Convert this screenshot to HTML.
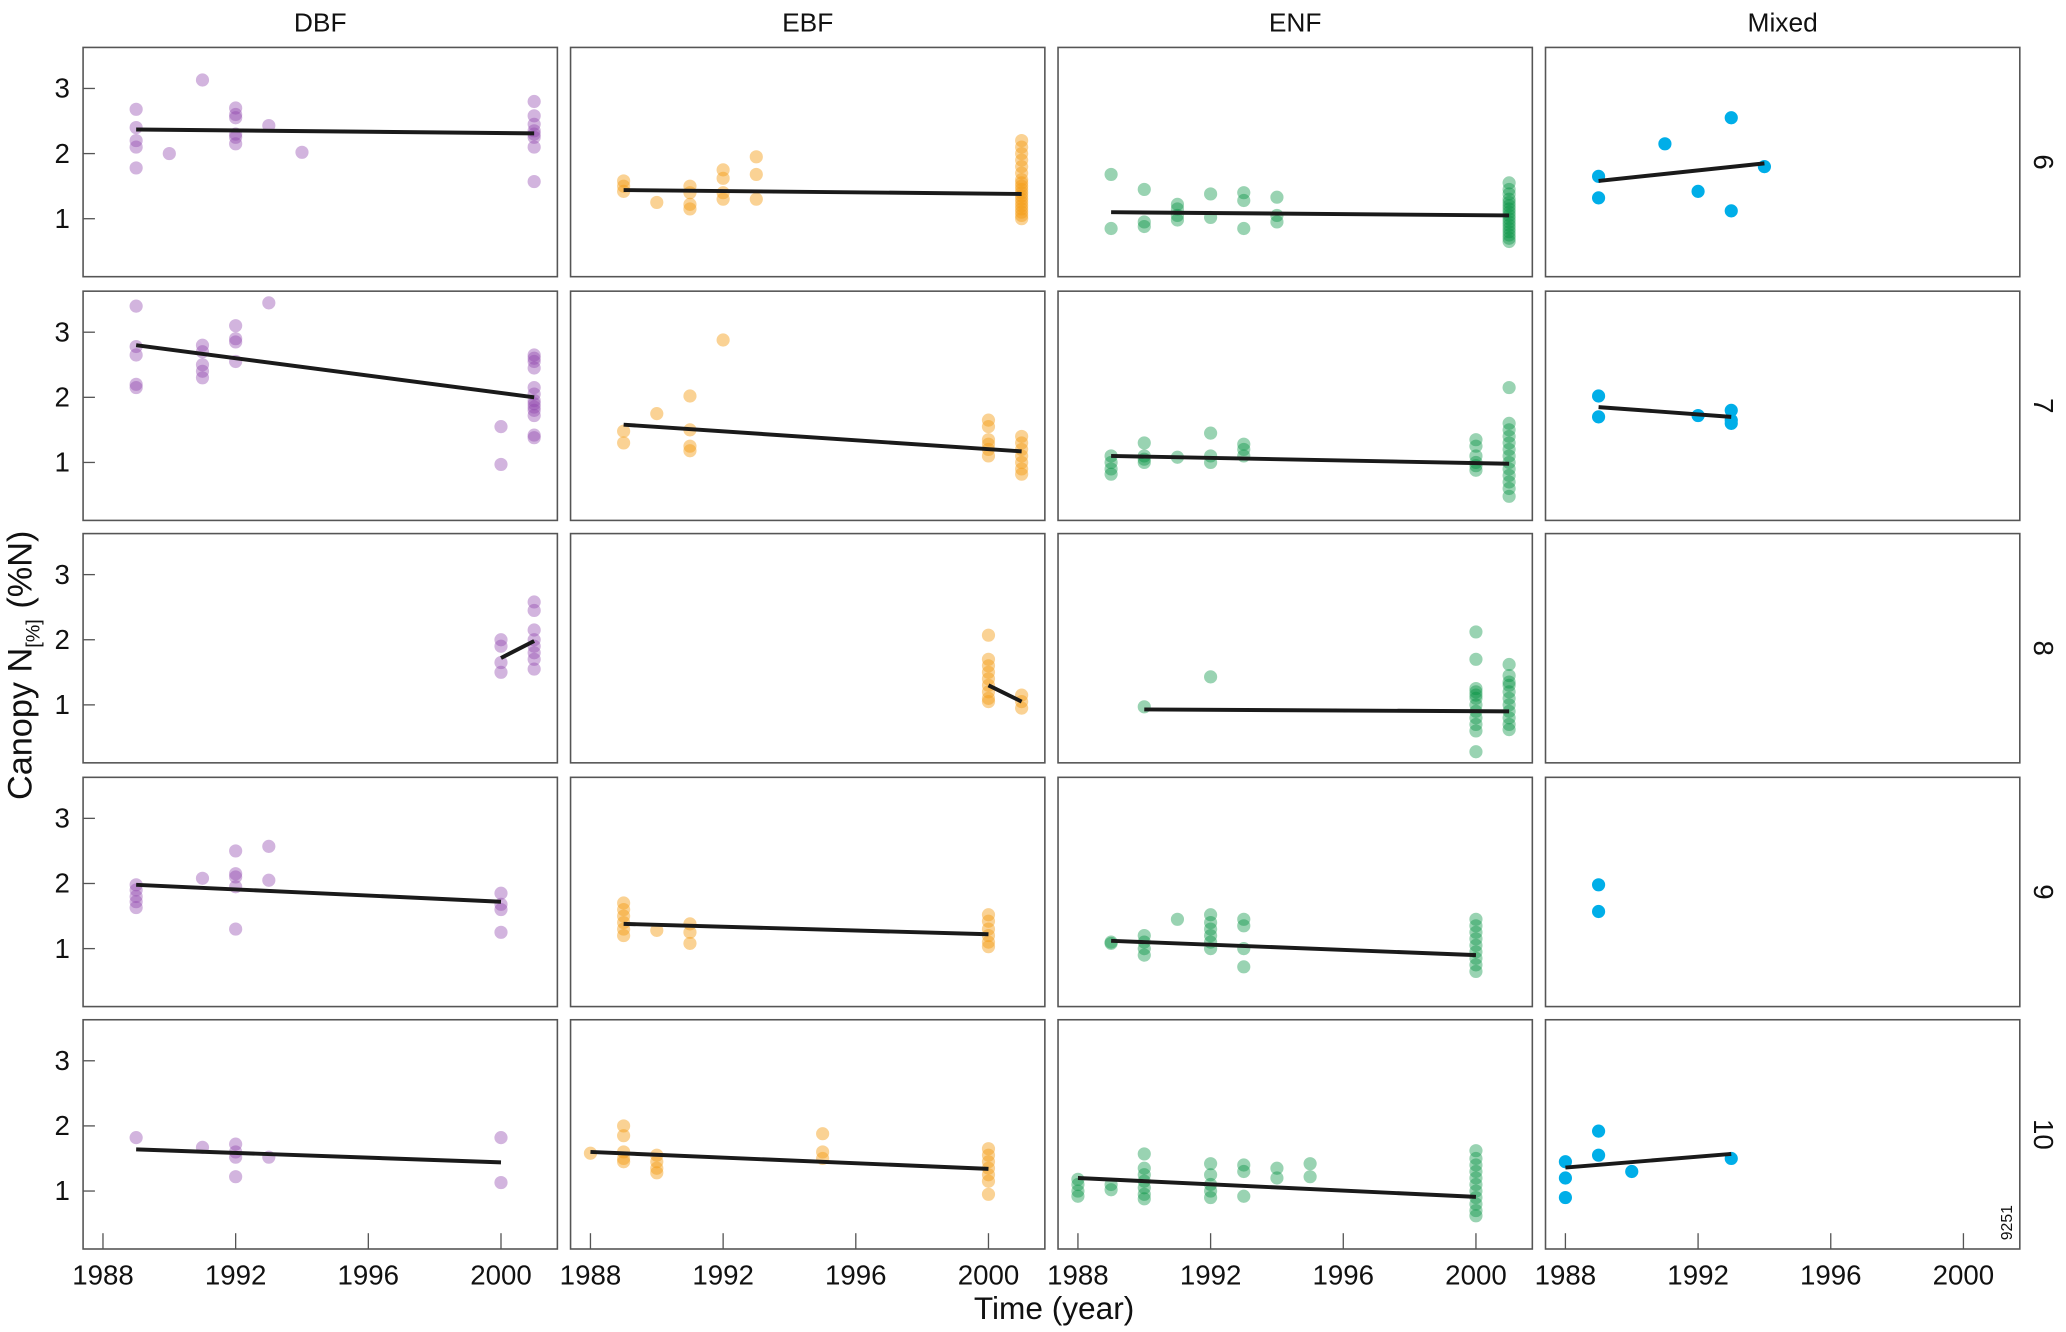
<!DOCTYPE html>
<html><head><meta charset="utf-8"><style>
html,body{margin:0;padding:0;background:#fff;}
svg{display:block;font-family:"Liberation Sans","DejaVu Sans",sans-serif;}
</style></head><body>
<svg id="chart" width="2066" height="1332" viewBox="0 0 1568 1011" xmlns="http://www.w3.org/2000/svg"></svg>
<script>
const columns = ["DBF","EBF","ENF","Mixed"];
const rows = ["6","7","8","9","10"];
const colors = {DBF:"#8e44ad",EBF:"#f39c12",ENF:"#00923f",Mixed:"#00aee8"};
const opac = {DBF:0.4,EBF:0.45,ENF:0.4,Mixed:1};
const xTicks = [1988,1992,1996,2000];
const yTicks = [1,2,3];
// points: [year, value]
const DBF6=[[1989,2.68],[1989,2.4],[1989,2.2],[1989,2.1],[1989,1.78],[1990,2.0],[1991,3.13],[1992,2.7],[1992,2.6],[1992,2.55],[1992,2.3],[1992,2.25],[1992,2.15],[1993,2.43],[1994,2.02],[2001,2.8],[2001,2.58],[2001,2.45],[2001,2.35],[2001,2.3],[2001,2.25],[2001,2.1],[2001,1.57]];
const EBF6=[[1989,1.58],[1989,1.5],[1989,1.42],[1990,1.25],[1991,1.5],[1991,1.4],[1991,1.22],[1991,1.15],[1992,1.75],[1992,1.62],[1992,1.4],[1992,1.3],[1993,1.95],[1993,1.68],[1993,1.3],[2001,2.2],[2001,2.1],[2001,2.0],[2001,1.9],[2001,1.8],[2001,1.7],[2001,1.6],[2001,1.55],[2001,1.5],[2001,1.45],[2001,1.4],[2001,1.35],[2001,1.3],[2001,1.25],[2001,1.2],[2001,1.15],[2001,1.1],[2001,1.05],[2001,1.0]];
const ENF6=[[1989,1.68],[1989,0.85],[1990,1.45],[1990,0.95],[1990,0.88],[1991,1.22],[1991,1.15],[1991,1.05],[1991,0.98],[1992,1.38],[1992,1.02],[1993,1.4],[1993,1.28],[1993,0.85],[1994,1.33],[1994,1.05],[1994,0.95],[2001,1.55],[2001,1.45],[2001,1.38],[2001,1.3],[2001,1.25],[2001,1.2],[2001,1.15],[2001,1.1],[2001,1.05],[2001,1.0],[2001,0.95],[2001,0.9],[2001,0.85],[2001,0.8],[2001,0.75],[2001,0.7],[2001,0.65]];
const Mixed6=[[1989,1.65],[1989,1.32],[1991,2.15],[1992,1.42],[1993,2.55],[1993,1.12],[1994,1.8]];
const DBF7=[[1989,3.4],[1989,2.78],[1989,2.65],[1989,2.2],[1989,2.15],[1991,2.8],[1991,2.7],[1991,2.5],[1991,2.4],[1991,2.3],[1992,3.1],[1992,2.9],[1992,2.85],[1992,2.55],[1993,3.45],[2000,1.55],[2000,0.97],[2001,2.65],[2001,2.6],[2001,2.55],[2001,2.45],[2001,2.15],[2001,2.05],[2001,1.95],[2001,1.9],[2001,1.85],[2001,1.8],[2001,1.72],[2001,1.42],[2001,1.38]];
const EBF7=[[1989,1.48],[1989,1.3],[1990,1.75],[1991,2.02],[1991,1.5],[1991,1.25],[1991,1.18],[1992,2.88],[2000,1.65],[2000,1.55],[2000,1.35],[2000,1.28],[2000,1.2],[2000,1.1],[2001,1.4],[2001,1.3],[2001,1.2],[2001,1.1],[2001,1.0],[2001,0.9],[2001,0.82]];
const ENF7=[[1989,1.1],[1989,1.0],[1989,0.9],[1989,0.82],[1990,1.3],[1990,1.1],[1990,1.05],[1990,1.0],[1991,1.08],[1992,1.45],[1992,1.1],[1992,1.0],[1993,1.28],[1993,1.2],[1993,1.1],[2000,1.35],[2000,1.25],[2000,1.1],[2000,1.0],[2000,0.95],[2000,0.88],[2001,2.15],[2001,1.6],[2001,1.5],[2001,1.4],[2001,1.3],[2001,1.2],[2001,1.1],[2001,1.0],[2001,0.9],[2001,0.8],[2001,0.7],[2001,0.6],[2001,0.48]];
const Mixed7=[[1989,2.02],[1989,1.7],[1992,1.72],[1993,1.8],[1993,1.65],[1993,1.6]];
const DBF8=[[2000,2.0],[2000,1.9],[2000,1.65],[2000,1.5],[2001,2.58],[2001,2.45],[2001,2.15],[2001,2.0],[2001,1.9],[2001,1.8],[2001,1.7],[2001,1.55]];
const EBF8=[[2000,2.07],[2000,1.7],[2000,1.6],[2000,1.5],[2000,1.4],[2000,1.3],[2000,1.2],[2000,1.1],[2000,1.05],[2001,1.15],[2001,1.05],[2001,0.95]];
const ENF8=[[1990,0.97],[1992,1.43],[2000,2.12],[2000,1.7],[2000,1.25],[2000,1.2],[2000,1.15],[2000,1.1],[2000,1.0],[2000,0.9],[2000,0.8],[2000,0.7],[2000,0.6],[2000,0.28],[2001,1.62],[2001,1.45],[2001,1.35],[2001,1.3],[2001,1.2],[2001,1.1],[2001,1.0],[2001,0.9],[2001,0.8],[2001,0.7],[2001,0.62]];
const Mixed8=[];
const DBF9=[[1989,1.98],[1989,1.9],[1989,1.8],[1989,1.72],[1989,1.63],[1991,2.08],[1992,2.5],[1992,2.15],[1992,2.1],[1992,1.95],[1992,1.3],[1993,2.57],[1993,2.05],[2000,1.85],[2000,1.68],[2000,1.6],[2000,1.25]];
const EBF9=[[1989,1.7],[1989,1.6],[1989,1.5],[1989,1.4],[1989,1.3],[1989,1.2],[1990,1.28],[1991,1.38],[1991,1.25],[1991,1.08],[2000,1.52],[2000,1.42],[2000,1.3],[2000,1.2],[2000,1.1],[2000,1.03]];
const ENF9=[[1989,1.1],[1989,1.08],[1990,1.2],[1990,1.1],[1990,1.0],[1990,0.9],[1991,1.45],[1992,1.52],[1992,1.4],[1992,1.3],[1992,1.2],[1992,1.1],[1992,1.0],[1993,1.45],[1993,1.35],[1993,1.0],[1993,0.72],[2000,1.45],[2000,1.35],[2000,1.25],[2000,1.15],[2000,1.05],[2000,0.95],[2000,0.85],[2000,0.75],[2000,0.65]];
const Mixed9=[[1989,1.98],[1989,1.57]];
const DBF10=[[1989,1.82],[1991,1.67],[1992,1.72],[1992,1.6],[1992,1.52],[1992,1.22],[1993,1.52],[2000,1.82],[2000,1.13]];
const EBF10=[[1988,1.58],[1989,2.0],[1989,1.85],[1989,1.6],[1989,1.5],[1989,1.45],[1990,1.55],[1990,1.45],[1990,1.35],[1990,1.28],[1995,1.88],[1995,1.6],[1995,1.5],[2000,1.65],[2000,1.55],[2000,1.45],[2000,1.35],[2000,1.25],[2000,1.15],[2000,0.95]];
const ENF10=[[1988,1.18],[1988,1.1],[1988,1.0],[1988,0.92],[1989,1.1],[1989,1.02],[1990,1.57],[1990,1.35],[1990,1.25],[1990,1.15],[1990,1.05],[1990,0.95],[1990,0.88],[1992,1.42],[1992,1.25],[1992,1.1],[1992,1.0],[1992,0.9],[1993,1.4],[1993,1.3],[1993,0.92],[1994,1.35],[1994,1.2],[1995,1.42],[1995,1.22],[2000,1.62],[2000,1.5],[2000,1.4],[2000,1.3],[2000,1.2],[2000,1.1],[2000,1.0],[2000,0.9],[2000,0.8],[2000,0.7],[2000,0.62]];
const Mixed10=[[1988,1.45],[1988,1.2],[1988,0.9],[1989,1.92],[1989,1.55],[1990,1.3],[1993,1.5]];
// trend lines: [x0,y0,x1,y1]
const trends = {
 DBF6:[1989,2.37,2001,2.31], EBF6:[1989,1.44,2001,1.38], ENF6:[1989,1.1,2001,1.05], Mixed6:[1989,1.58,1994,1.85],
 DBF7:[1989,2.8,2001,2.0], EBF7:[1989,1.58,2001,1.17], ENF7:[1989,1.1,2001,0.98], Mixed7:[1989,1.85,1993,1.7],
 DBF8:[2000,1.72,2001,1.98], EBF8:[2000,1.3,2001,1.05], ENF8:[1990,0.93,2001,0.9],
 DBF9:[1989,1.98,2000,1.72], EBF9:[1989,1.38,2000,1.22], ENF9:[1989,1.12,2000,0.9],
 DBF10:[1989,1.64,2000,1.44], EBF10:[1988,1.6,2000,1.34], ENF10:[1988,1.2,2000,0.91], Mixed10:[1988,1.36,1993,1.57]
};
const series = {DBF6,EBF6,ENF6,Mixed6,DBF7,EBF7,ENF7,Mixed7,DBF8,EBF8,ENF8,Mixed8,DBF9,EBF9,ENF9,Mixed9,DBF10,EBF10,ENF10,Mixed10};

const NS="http://www.w3.org/2000/svg";
const svg=document.getElementById('chart');
function mk(tag,attrs,parent){const e=document.createElementNS(NS,tag);for(const k in attrs)e.setAttribute(k,attrs[k]);(parent||svg).appendChild(e);return e;}
const colX=[63,433,803,1173], PW=360, rowY=[36,221,405,590,774], PH=174;
const xMin=1987.4, xMax=2001.7, yMin=0.11, yMax=3.63;
function sx(c,v){return colX[c]+(v-xMin)/(xMax-xMin)*PW;}
function sy(r,v){return rowY[r]+PH-(v-yMin)/(yMax-yMin)*PH;}

columns.forEach((cn,c)=>{
  const t=mk('text',{x:colX[c]+PW/2,y:24,'text-anchor':'middle','font-size':20,fill:'#111'});
  
  
  t.textContent=cn;
});
rows.forEach((rn,r)=>{
  const cy=rowY[r]+PH/2, cx=1551;
  const t=mk('text',{x:cx,y:cy,'text-anchor':'middle','dominant-baseline':'central','font-size':21,fill:'#111',transform:`rotate(90 ${cx} ${cy})`});
  
  
  t.textContent=rn;
  columns.forEach((cn,c)=>{
    const g=mk('g',{});
    
    
    const rect=mk('rect',{x:colX[c],y:rowY[r],width:PW,height:PH,fill:'none',stroke:'#555','stroke-width':1.2},g);
    
    
    if(c===0){
      yTicks.forEach(v=>{
        const y=sy(r,v);
        const tk=mk('line',{x1:colX[0],x2:colX[0]+9,y1:y,y2:y,stroke:'#555','stroke-width':1},g);
        
        
        const tl=mk('text',{x:53,y:y+7,'text-anchor':'end','font-size':21,fill:'#111'},g);
        
        
        tl.textContent=v;
      });
    }
    if(r===rows.length-1){
      xTicks.forEach(v=>{
        const x=sx(c,v);
        const tk=mk('line',{x1:x,x2:x,y1:rowY[r]+PH,y2:rowY[r]+PH-12,stroke:'#555','stroke-width':1},g);
        
        
        const tl=mk('text',{x:x,y:975,'text-anchor':'middle','font-size':21,fill:'#111'},g);
        
        
        tl.textContent=v;
      });
    }
    const key=cn+rn;
    (series[key]||[]).forEach(p=>{
      const d=mk('circle',{cx:sx(c,p[0]),cy:sy(r,p[1]),r:5,fill:colors[cn],'fill-opacity':opac[cn]},g);
      
      
    });
    const tr=trends[key];
    if(tr){
      const l=mk('line',{x1:sx(c,tr[0]),y1:sy(r,tr[1]),x2:sx(c,tr[2]),y2:sy(r,tr[3]),stroke:'#1a1a1a','stroke-width':3},g);
      
      
    }
  });
});
const xt=mk('text',{x:800,y:1001,'text-anchor':'middle','font-size':24,fill:'#111'});


xt.textContent='Time (year)';
const yt=mk('text',{x:24,y:505,'text-anchor':'middle','font-size':26,fill:'#111',transform:'rotate(-90 24 505)'});


yt.innerHTML='Canopy N<tspan font-size="15" dy="6">[%]</tspan><tspan dy="-6" dx="8">(%N)</tspan>';
const id=mk('text',{x:1527,y:928,'text-anchor':'middle','font-size':12,fill:'#111',transform:'rotate(-90 1527 928)'});


id.textContent='9251';
</script>
</body></html>
